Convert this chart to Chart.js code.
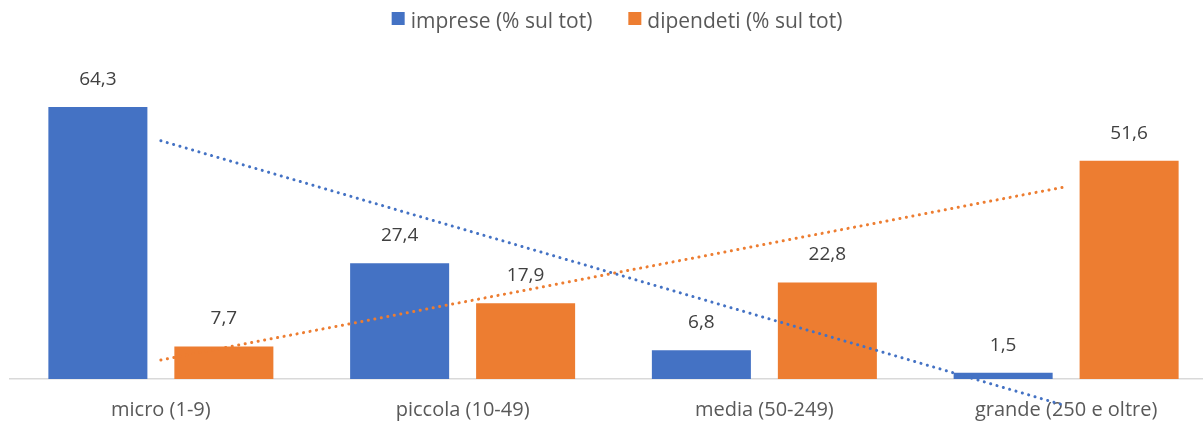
<!DOCTYPE html>
<html>
<head>
<meta charset="utf-8">
<script src="https://cdn.jsdelivr.net/npm/chart.js@4"></script>
<style>
  html, body { margin: 0; padding: 0; background: #fff; overflow: hidden; }
  /* a bit wider than the window: the plot area runs past the right edge in the original */
  #wrap { width: 1217px; height: 421px; }
</style>
</head>
<body>
<div id="wrap"><canvas id="chart"></canvas></div>
<script>
const categories = ['micro (1-9)', 'piccola (10-49)', 'media (50-249)', 'grande (250 e oltre)'];
const imprese = [64.3, 27.4, 6.8, 1.5];
const dipendenti = [7.7, 17.9, 22.8, 51.6];
const seriesNames = ['imprese (% sul tot)', 'dipendeti (% sul tot)'];

const BLUE = '#4472C4';
const ORANGE = '#ED7D31';
const FONT = 'Open Sans';

// linear trend like the spreadsheet one
function trend(values) {
  const n = values.length;
  const mx = (n - 1) / 2;
  const my = values.reduce((a, b) => a + b, 0) / n;
  let sxy = 0, sxx = 0;
  values.forEach((v, i) => { sxy += (i - mx) * (v - my); sxx += (i - mx) * (i - mx); });
  const slope = sxy / sxx;
  return values.map((v, i) => my + slope * (i - mx));
}

const valueLabels = {
  id: 'valueLabels',
  afterDatasetsDraw(chart) {
    const ctx = chart.ctx;
    ctx.save();
    ctx.font = '19px "' + FONT + '"';
    ctx.fillStyle = '#404040';
    ctx.textAlign = 'center';
    ctx.textBaseline = 'bottom';
    chart.data.datasets.forEach((ds, di) => {
      if (ds.type === 'line') return;
      chart.getDatasetMeta(di).data.forEach((bar, i) => {
        ctx.fillText(ds.data[i].toFixed(1).replace('.', ','), bar.x, bar.y - 18);
      });
    });
    ctx.restore();
  }
};

// legend drawn by hand so spacing can follow the original
const topLegend = {
  id: 'topLegend',
  afterDraw(chart) {
    const ctx = chart.ctx;
    const bars = chart.data.datasets.filter(d => d.type !== 'line');
    ctx.save();
    ctx.font = '21px "' + FONT + '"';
    ctx.textBaseline = 'middle';
    const box = 13, gap = 6, itemGap = 36;
    const widths = bars.map(d => box + gap + ctx.measureText(d.label).width);
    const total = widths.reduce((a, b) => a + b, 0) + itemGap * (bars.length - 1);
    let x = 617 - total / 2;
    bars.forEach((d, i) => {
      ctx.fillStyle = d.backgroundColor;
      ctx.fillRect(x, 12, box, box);
      ctx.fillStyle = '#595959';
      ctx.fillText(d.label, x + box + gap, 22);
      x += widths[i] + itemGap;
    });
    ctx.restore();
  }
};

new Chart(document.getElementById('chart'), {
  type: 'bar',
  data: {
    labels: categories,
    datasets: [
      { label: seriesNames[0], data: imprese, backgroundColor: BLUE, order: 2 },
      { label: seriesNames[1], data: dipendenti, backgroundColor: ORANGE, order: 2 },
      { type: 'line', label: 'trend1', data: trend(imprese), borderColor: BLUE, borderWidth: 3,
        borderDash: [0.1, 6.5], borderCapStyle: 'round', pointRadius: 0, fill: false, clip: false, order: 1 },
      { type: 'line', label: 'trend2', data: trend(dipendenti), borderColor: ORANGE, borderWidth: 3,
        borderDash: [0.1, 6.5], borderCapStyle: 'round', pointRadius: 0, fill: false, clip: false, order: 1 }
    ]
  },
  options: {
    responsive: true,
    maintainAspectRatio: false,
    animation: false,
    datasets: { bar: { categoryPercentage: 0.835, barPercentage: 0.786 } },
    layout: { padding: { left: 10, right: 0, top: 83, bottom: 0 } },
    plugins: {
      legend: { display: false },
      tooltip: { enabled: false }
    },
    scales: {
      x: {
        grid: { display: false, drawTicks: false },
        border: { display: true, color: '#D9D9D9', width: 1.5 },
        ticks: { color: '#595959', font: { family: FONT, size: 20 }, padding: 19, maxRotation: 0 },
        afterFit(scale) { scale.height = 42; }
      },
      y: { display: false, min: 0, max: 70 }
    }
  },
  plugins: [valueLabels, topLegend]
});
</script>
</body>
</html>
